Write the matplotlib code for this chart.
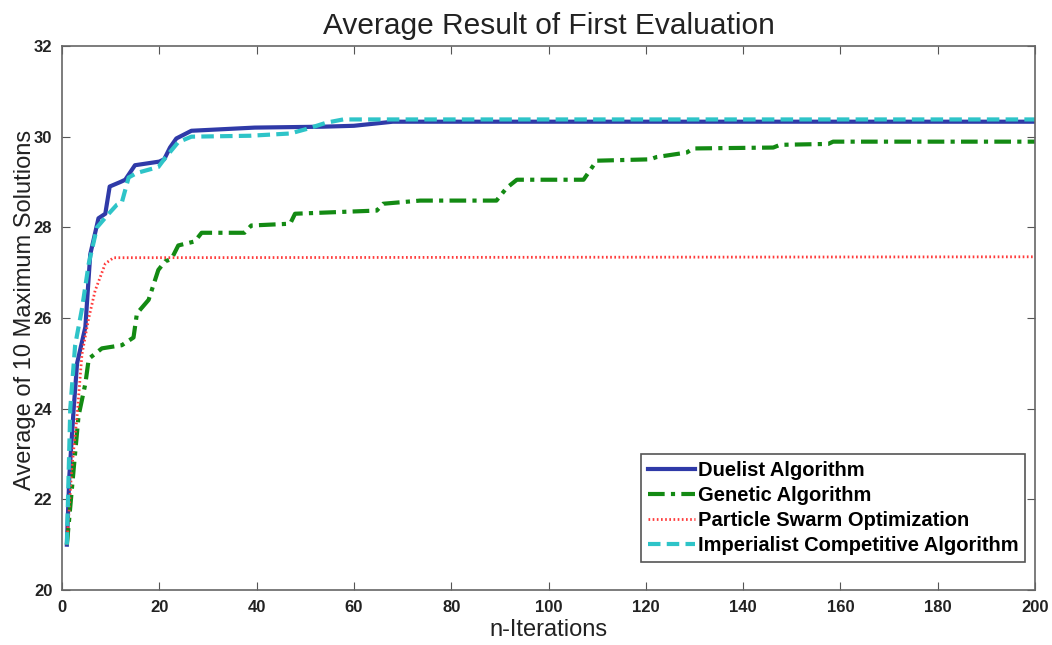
import matplotlib
matplotlib.use("Agg")
import matplotlib.pyplot as plt

plt.rcParams['font.family'] = ['Liberation Sans', 'DejaVu Sans']

# values (iteration, average of 10 max solutions)
da_x = [1, 1.5, 2.4, 3.1, 4.8, 5.8, 7.5, 8.9, 9.8, 12, 13, 15, 20, 21, 22.2, 23.5, 26.6,
        39.6, 53.6, 60, 68, 200]
da_y = [21, 22.5, 24.0, 25.0, 25.8, 27.4, 28.2, 28.3, 28.9, 29.0, 29.05, 29.37, 29.45, 29.5,
        29.76, 29.96, 30.13, 30.2, 30.22, 30.24, 30.33, 30.33]

ga_x = [1, 2.4, 3.4, 4.8, 5.5, 8.2, 12.3, 14.7, 15.4, 17.8, 19.8, 21.2, 22.5, 23.9, 27.3,
        28.7, 37.5, 38.9, 46.9, 47.9, 64.7, 66, 73.6, 89.3, 91.4, 93.5, 107.2, 109.9,
        120.9, 122.2, 128.4, 129.8, 146.2, 147.6, 157.5, 158.5, 200]
ga_y = [21, 22.67, 23.84, 24.55, 25.1, 25.33, 25.4, 25.57, 26.1, 26.4, 27.06, 27.25, 27.3,
        27.6, 27.69, 27.88, 27.88, 28.04, 28.08, 28.3, 28.37, 28.52, 28.59, 28.59, 28.87,
        29.05, 29.05, 29.47, 29.5, 29.55, 29.65, 29.74, 29.76, 29.82, 29.84, 29.89, 29.89]

pso_x = [1, 2, 3.1, 4.1, 5.5, 6.8, 8.9, 10.6, 200]
pso_y = [21, 22.67, 23.84, 25.2, 26.0, 26.6, 27.2, 27.33, 27.35]

ica_x = [1, 1.7, 2.7, 4.1, 5.5, 7.2, 9.6, 11.3, 12.3, 13.7, 15.4, 19.8, 21.2, 23.9, 26.6,
         38.6, 46.9, 50.3, 54.4, 57.8, 200]
ica_y = [21, 24, 25.4, 26.2, 27.2, 28.0, 28.3, 28.5, 28.55, 29.1, 29.2, 29.33, 29.53, 29.88,
         30.0, 30.02, 30.07, 30.17, 30.31, 30.38, 30.38]

labels = ['Duelist Algorithm', 'Genetic Algorithm', 'Particle Swarm Optimization',
          'Imperialist Competitive Algorithm']

fig = plt.figure(figsize=(10.52, 6.45), dpi=100)
ax = fig.add_axes([62/1052, 1 - 590/645, (1035-62)/1052, (590-46)/645])

ax.plot(da_x, da_y, color='#2f3aa8', lw=3, ls='-', label=labels[0])
ax.plot(ga_x, ga_y, color='#138a13', lw=3, ls=(0, (4, 1.5, 1, 1.5)), label=labels[1])
ax.plot(pso_x, pso_y, color='#ff3b3b', lw=2, ls=(0, (0.6, 0.9)), label=labels[2])
ax.plot(ica_x, ica_y, color='#2ec4c8', lw=3, ls=(0, (3, 1.5)), label=labels[3])

ax.set_xlim(0, 200)
ax.set_ylim(20, 32)
ax.set_xticks(range(0, 201, 20))
ax.set_yticks(range(20, 33, 2))
ax.tick_params(direction='in', top=True, right=True, labelsize=12, length=6,
               color='#555555', pad=7)
for lab in ax.get_xticklabels() + ax.get_yticklabels():
    lab.set_fontweight('bold')
    lab.set_color('#222222')
for s in ax.spines.values():
    s.set_color('#666666')
    s.set_linewidth(1.2)

ax.set_title('Average Result of First Evaluation', fontsize=21.5, pad=9, color='#222222')
ax.set_xlabel('n-Iterations', fontsize=17, labelpad=3, color='#222222')
ax.set_ylabel('Average of 10 Maximum Solutions', fontsize=17, color='#222222')
ax.yaxis.set_label_coords(-0.027, 0.515)

leg = ax.legend(loc='lower right', bbox_to_anchor=(0.99, 0.051), fancybox=False,
                framealpha=1, edgecolor='#555555', prop={'weight': 'bold', 'size': 14.5},
                handlelength=2.3, handletextpad=0.15, labelspacing=0.3, borderaxespad=0,
                borderpad=0.35)
leg.get_frame().set_linewidth(1.2)

fig.savefig('out.png', dpi=100)
